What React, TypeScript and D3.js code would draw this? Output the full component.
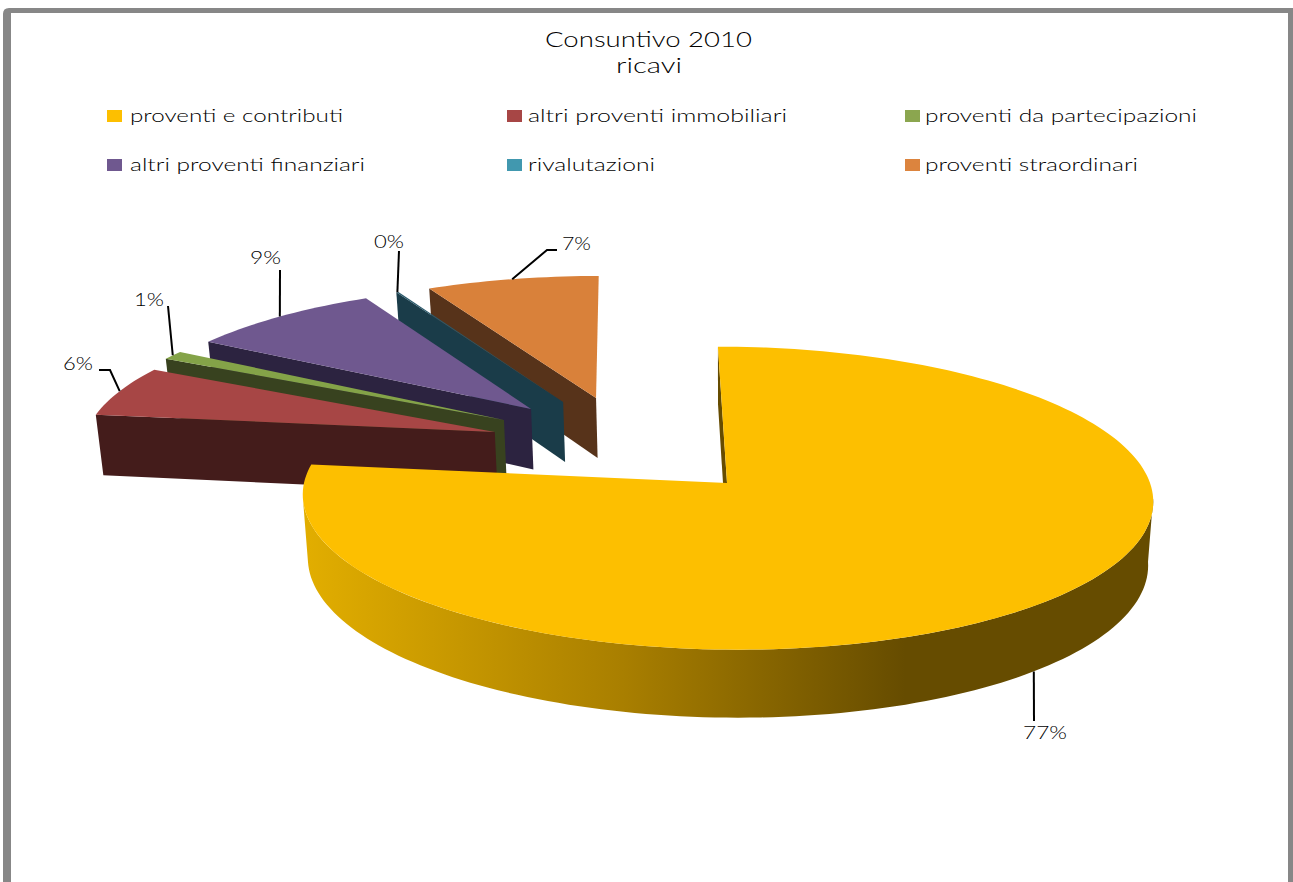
import React from "react";
import * as d3 from "d3";

// ---- data ----
const categories = [
  "proventi e contributi",
  "altri proventi immobiliari",
  "proventi da partecipazioni",
  "altri proventi finanziari",
  "rivalutazioni",
  "proventi straordinari",
];
const shares = [77.0, 5.7, 1.0, 8.6, 0.1, 7.6];
const shareLabels = ["77%", "6%", "1%", "9%", "0%", "7%"];

// ---- styling ----
const topColors = ["#FDBF00", "#A74645", "#84A348", "#6F588F", "#2C5A6C", "#D9813A"];
const wallColors = ["#664C00", "#441C1B", "#38421F", "#2C2340", "#1A3C49", "#57331A"];
const legendSwatch = ["#FDBF00", "#A74645", "#8BA64F", "#6F588F", "#4198AF", "#DC843E"];

// ---- layout, separate from the data ----
const explodeU = [0, -0.56, -0.54, -0.475, -0.396, -0.314];
const explodeV = [0, -0.352, -0.438, -0.519, -0.571, -0.601];
const drawOrder = [5, 4, 3, 2, 1, 0];
const legendSwatchX = [107, 507, 905, 107, 507, 905];
const legendTextX = [130, 528, 925, 130, 528, 925];
const legendTextW = [213, 259, 272, 235, 127, 213];
const legendRowY = [122, 171];
const labelX = [1023, 63, 134, 250, 374, 562];
const labelY = [739, 370, 306, 264, 248, 250];
const labelW = [44, 30, 30, 31, 30, 29];
// leader line bend points, after the anchor on the slice rim
const leaderBends: [number, number][][] = [
  [[1034, 721]],
  [[110, 370], [99, 370]],
  [[168, 306]],
  [[280, 270]],
  [[399, 251]],
  [[547, 250], [557, 250]],
];

const APEX_X = 727;
const APEX_Y = 483;
const RX = 423;
const RY = 150;
const PERSP = 0.1;
const SKEW = 10;

const project = (u: number, v: number, down = 0) => {
  const s = 1 / (1 - PERSP * v);
  const w = v * s;
  const x = APEX_X + RX * u * s + SKEW * w;
  const y = APEX_Y + RY * w;
  if (!down) return [x, y] as [number, number];
  const depth = 63 + 5 * v;
  return [APEX_X + (x - APEX_X) * (1 - 0.012), y + depth] as [number, number];
};

const line = d3.line<[number, number]>().x((d) => d[0]).y((d) => d[1]);

const arcs = d3
  .pie<number>()
  .sort(null)
  .startAngle(0)
  .endAngle(2 * Math.PI)(shares);

const rim = (i: number, a: number, down = 0) =>
  project(explodeU[i] + Math.sin(a), explodeV[i] - Math.cos(a), down);
const apex = (i: number, down = 0) => project(explodeU[i], explodeV[i], down);

const samples = (a0: number, a1: number) => {
  const n = Math.max(2, Math.ceil(Math.abs(a1 - a0) * 40));
  return d3.range(n + 1).map((k) => a0 + ((a1 - a0) * k) / n);
};

const topPath = (i: number) => {
  const a = arcs[i];
  return (
    line([apex(i), ...samples(a.startAngle, a.endAngle).map((t) => rim(i, t))]) + "Z"
  );
};
const edgeWall = (i: number, angle: number) =>
  line([apex(i), rim(i, angle), rim(i, angle, 1), apex(i, 1)]) + "Z";

// the side wall runs between the two widest points of the tilted rim
const frontWall = (i: number) => {
  const side = Math.acos(-PERSP);
  const ts = samples(side, 2 * Math.PI - side);
  return (
    line([...ts.map((t) => rim(i, t)), ...ts.slice().reverse().map((t) => rim(i, t, 1))]) + "Z"
  );
};

export default function App() {
  return (
    <svg
      width={1293}
      height={882}
      style={{ position: "fixed", left: 0, top: 0, background: "#fff" }}
      fontFamily="Lato, 'Open Sans', sans-serif"
      fontWeight={300}
    >
      <defs>
        <linearGradient id="wallShade" gradientUnits="userSpaceOnUse" x1={303} x2={905} y1={0} y2={0}>
          <stop offset="0" stopColor="#E2AE00" />
          <stop offset="0.53" stopColor="#A97F00" />
          <stop offset="1" stopColor={wallColors[0]} />
        </linearGradient>
      </defs>

      <path
        d="M3,882 V14 Q3,8 9,8 H1288 V882 H1293 V8 H1288 V13 H11 V882 Z"
        fill="#878787"
      />

      <text x={545} y={47} fontSize={21} textLength={207} lengthAdjust="spacingAndGlyphs" fill="#000">
        Consuntivo 2010
      </text>
      <text x={616} y={73} fontSize={21} textLength={66} lengthAdjust="spacingAndGlyphs" fill="#000">
        ricavi
      </text>

      {categories.map((c, i) => {
        const base = legendRowY[Math.floor(i / 3)];
        return (
          <g key={c}>
            <rect x={legendSwatchX[i]} y={base - 12} width={15} height={12} fill={legendSwatch[i]} />
            <text
              x={legendTextX[i]}
              y={base}
              fontSize={18}
              textLength={legendTextW[i]}
              lengthAdjust="spacingAndGlyphs"
              fill="#000"
            >
              {c}
            </text>
          </g>
        );
      })}

      {drawOrder.map((i) => {
        const a = arcs[i];
        return (
          <g key={i}>
            {i === 0 ? (
              <>
                <path d={edgeWall(0, 0)} fill={wallColors[0]} />
                <path d={frontWall(0)} fill="url(#wallShade)" />
              </>
            ) : (
              <path d={edgeWall(i, a.startAngle)} fill={wallColors[i]} />
            )}
            <path d={topPath(i)} fill={topColors[i]} />
          </g>
        );
      })}

      {categories.map((c, i) => {
        const a = arcs[i];
        const mid = (a.startAngle + a.endAngle) / 2;
        const start = rim(i, mid, i === 0 ? 1 : 0);
        return (
          <g key={c + "-label"}>
            <path
              d={line([start, ...leaderBends[i]]) ?? ""}
              fill="none"
              stroke="#000"
              strokeWidth={2}
            />
            <text
              x={labelX[i]}
              y={labelY[i]}
              fontSize={17}
              textLength={labelW[i]}
              lengthAdjust="spacingAndGlyphs"
              fill="#000"
            >
              {shareLabels[i]}
            </text>
          </g>
        );
      })}
    </svg>
  );
}
